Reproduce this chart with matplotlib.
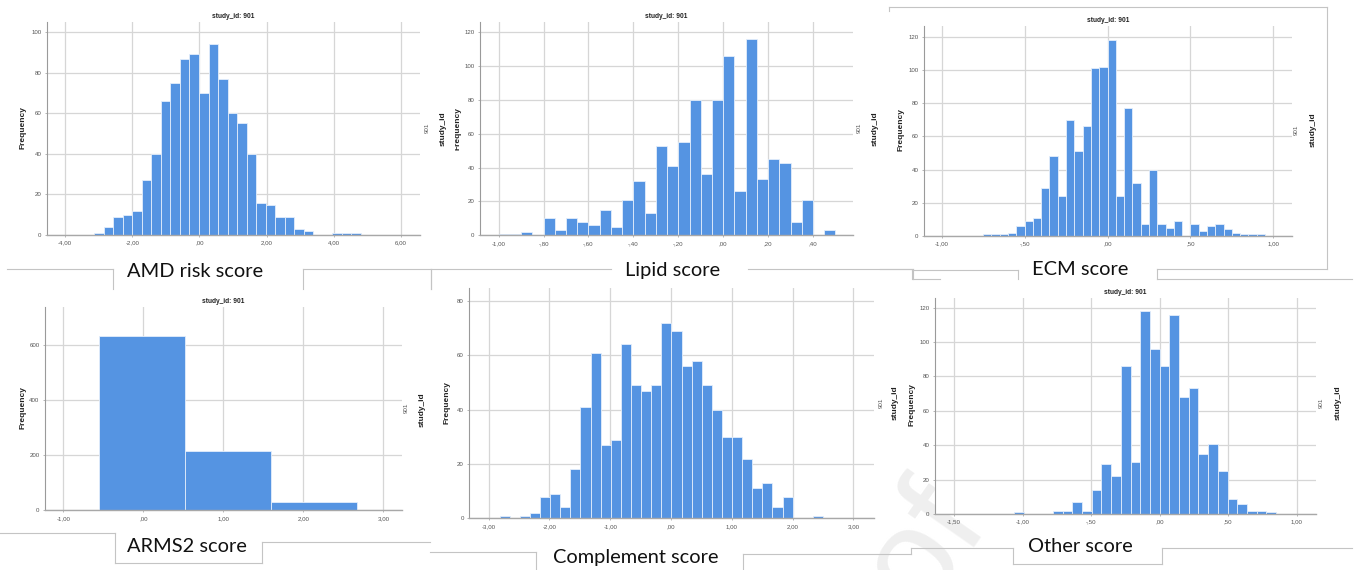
import matplotlib.pyplot as plt
import numpy as np
from matplotlib.lines import Line2D

W, H = 1359, 570

# counts per bin, read per panel
amd_counts = [1, 4, 9, 10, 12, 27, 40, 66, 75, 87, 89, 70, 94, 77, 60, 55, 40,
              16, 15, 9, 9, 3, 2, 0, 0, 1, 1, 1]
amd_start, amd_width = -3.13, 0.2834

lipid_counts = [1, 1, 2, 0, 10, 3, 10, 8, 6, 15, 5, 21, 32, 13, 53, 41, 55, 80,
                36, 80, 106, 26, 116, 33, 45, 43, 8, 21, 0, 3]
lipid_start, lipid_width = -1.0, 0.05

ecm_counts = [1, 1, 1, 2, 6, 9, 11, 29, 48, 24, 70, 51, 66, 101, 102, 118, 24,
              77, 32, 7, 40, 7, 5, 9, 0, 7, 3, 6, 7, 4, 2, 1, 1, 1]
ecm_start, ecm_width = -0.75, 0.05

arms2_edges = [-0.548, 0.527, 1.602, 2.677]
arms2_counts = [632, 213, 29]

compl_counts = [1, 0, 1, 2, 8, 9, 4, 18, 41, 61, 27, 29, 64, 49, 47, 49, 72, 69,
                56, 58, 49, 40, 30, 30, 22, 11, 13, 4, 8, 0, 0, 1]
compl_start, compl_width = -2.82, 0.1663

other_counts = [1, 0, 0, 0, 2, 2, 7, 2, 14, 29, 22, 86, 30, 118, 96, 86, 116,
                68, 73, 35, 41, 25, 9, 6, 2, 2, 1]
other_start, other_width = -1.0615, 0.0708

captions = ["AMD risk score", "Lipid score", "ECM score",
            "ARMS2 score", "Complement score", "Other score"]

BLUE = '#5594e2'
GRID = '#d6d6d6'
SANS = 'Liberation Sans'


def spss_fmt(v, pos=None):
    if abs(v) < 1e-9:
        v = 0.0
    s = f"{v:.2f}".replace('.', ',')
    s = s.replace('-0,', '-,')
    if s.startswith('0,'):
        s = s[1:]
    return s


fig = plt.figure(figsize=(W / 100, H / 100), dpi=100)
fig.patch.set_facecolor('white')


def fx(x):
    return x / W


def fy(y):
    return 1 - y / H


def px_axes(l, t, r, b):
    return fig.add_axes([fx(l), fy(b), (r - l) / W, (b - t) / H])


def hist_panel(box, edges, counts, xlim, ylim, xticks, yticks, title):
    ax = px_axes(*box)
    edges = np.asarray(edges)
    ax.bar(edges[:-1], counts, width=np.diff(edges), align='edge', color=BLUE,
           edgecolor='#e3eefb', linewidth=0.6, zorder=2)
    ax.set_xlim(*xlim)
    ax.set_ylim(*ylim)
    ax.set_xticks(xticks)
    ax.set_yticks(yticks)
    ax.xaxis.set_major_formatter(spss_fmt)
    ax.grid(True, color=GRID, linewidth=0.9)
    ax.set_axisbelow(True)
    for s in ('top', 'right'):
        ax.spines[s].set_visible(False)
    ax.spines['left'].set_color('#9a9a9a')
    ax.spines['left'].set_linewidth(0.8)
    ax.spines['bottom'].set_color('#a8a8a8')
    ax.spines['bottom'].set_linewidth(1.0)
    ax.tick_params(labelsize=4.4, colors='#9a9a9a', labelcolor='#555555',
                   length=1.5, width=0.5, pad=2.5)
    for lab in ax.get_xticklabels() + ax.get_yticklabels():
        lab.set_family(SANS)
    if title:
        ax.set_title('study_id: 901', fontsize=4.8, fontweight='bold',
                     family=SANS, color='#222222', pad=3)
    return ax


def bins(start, width, counts):
    return start + width * np.arange(len(counts) + 1)


hist_panel((47, 22, 420, 235), bins(amd_start, amd_width, amd_counts), amd_counts,
           (-4.536, 6.565), (0, 105), np.arange(-4, 7, 2), np.arange(0, 101, 20), True)
hist_panel((480, 22, 853, 235.3), bins(lipid_start, lipid_width, lipid_counts),
           lipid_counts, (-1.083, 0.578), (0, 126.1), np.arange(-1.0, 0.41, 0.2),
           np.arange(0, 121, 20), True)
hist_panel((924, 26, 1292, 236), bins(ecm_start, ecm_width, ecm_counts), ecm_counts,
           (-1.107, 1.113), (0, 126.4), np.arange(-1.0, 1.01, 0.5),
           np.arange(0, 121, 20), True)
hist_panel((45, 306.7, 401.7, 510.3), arms2_edges, arms2_counts,
           (-1.229, 3.23), (0, 737), np.arange(-1, 4, 1), [0, 200, 400, 600], True)
hist_panel((469.3, 288, 874, 518.3), bins(compl_start, compl_width, compl_counts),
           compl_counts, (-3.319, 3.341), (0, 84.8), np.arange(-3, 4, 1),
           np.arange(0, 81, 20), False)
hist_panel((935, 297.7, 1315.7, 514), bins(other_start, other_width, other_counts),
           other_counts, (-1.639, 1.139), (0, 125.8), np.arange(-1.5, 1.01, 0.5),
           np.arange(0, 121, 20), True)

# y-axis labels and the panel ids on the right side
for x, y in [(23, 128), (900.7, 130), (22.7, 408), (447.3, 403), (912, 405)]:
    fig.text(fx(x), fy(y), 'Frequency', rotation=90, fontsize=6, fontweight='bold',
             family=SANS, color='#222222', ha='center', va='center')

# half-hidden label under the lipid chart's left edge
clip_ax = px_axes(455.5, 90, 470, 170)
clip_ax.axis('off')
clip_ax.text(fx(457.5), fy(129), 'Frequency', rotation=90, fontsize=6,
             fontweight='bold', family=SANS, color='#222222', ha='center',
             va='center', transform=fig.transFigure, clip_on=True)

for x, y in [(427.7, 128), (859.3, 128), (1296.7, 130), (406.7, 408),
             (881.7, 403), (1321.7, 403)]:
    fig.text(fx(x), fy(y), '901', rotation=90, fontsize=4.5, family=SANS,
             color='#555555', ha='center', va='center')

for x, y in [(443, 129), (875, 129), (1313, 130), (421.7, 410), (895, 403),
             (1338, 403)]:
    fig.text(fx(x), fy(y), 'study_id', rotation=90, fontsize=6, fontweight='bold',
             family=SANS, color='#222222', ha='center', va='center')

# captions under each chart
cap_pos = [(195.5, 276.7), (673, 275.5), (1080, 275), (187, 551.7),
           (635.5, 563), (1080.5, 551.7)]
for (x, y), txt in zip(cap_pos, captions):
    fig.text(fx(x), fy(y), txt, fontsize=14.4, family='Lato', color='#111111',
             ha='center', va='baseline')

# text box borders around the captions
segments = [
    ((7, 269.3), (113, 269.3)), ((113, 269.3), (113, 289.3)),
    ((303.3, 269.3), (303.3, 289.3)), ((303.3, 269.3), (430, 269.3)),
    ((431, 269.3), (431, 289.3)),
    ((430.7, 269.3), (610.7, 269.3)), ((430.7, 269.3), (430.7, 289.3)),
    ((748.3, 269.3), (912.7, 269.3)), ((912.7, 269.3), (912.7, 279.3)),
    ((912.7, 279.3), (940, 279.3)),
    ((889.3, 7.3), (1326.7, 7.3)), ((889.3, 7.3), (889.3, 11)),
    ((1326.7, 7.3), (1326.7, 269.3)), ((1156.7, 269.3), (1326.7, 269.3)),
    ((1156.7, 269.3), (1156.7, 279.3)), ((1156.7, 279.3), (1351.7, 279.3)),
    ((880, 269.3), (911.7, 269.3)), ((911.7, 270), (1018.3, 270)),
    ((911.7, 270), (911.7, 279.3)), ((1018.3, 270), (1018.3, 279.3)),
    ((0, 533.3), (115, 533.3)), ((115, 533.3), (115, 563.3)),
    ((115, 563.3), (261.7, 563.3)), ((261.7, 541.7), (261.7, 563.3)),
    ((261.7, 541.7), (430, 541.7)),
    ((430, 551.7), (536, 551.7)), ((536, 551.7), (536, 570)),
    ((743.3, 554.3), (743.3, 570)), ((743.3, 554.3), (911, 554.3)),
    ((911, 548.3), (911, 554.3)), ((911, 548.3), (1013.3, 548.3)),
    ((1013.3, 548.3), (1013.3, 564.3)), ((1013.3, 564.3), (1161.7, 564.3)),
    ((1161.7, 548.3), (1161.7, 564.3)), ((1161.7, 548.3), (1351.7, 548.3)),
]
for (x0, y0), (x1, y1) in segments:
    fig.add_artist(Line2D([fx(x0), fx(x1)], [fy(y0), fy(y1)],
                          transform=fig.transFigure, color='#c4c4c4', lw=0.8))

# faint watermark in the lower right, kept beneath the charts
fig.text(fx(905), fy(462), 'of', rotation=55, rotation_mode='anchor',
         fontsize=100, family='Liberation Sans', color='#efefef', ha='right',
         va='top', zorder=-1)

fig.savefig('out.png', dpi=100, facecolor='white')
